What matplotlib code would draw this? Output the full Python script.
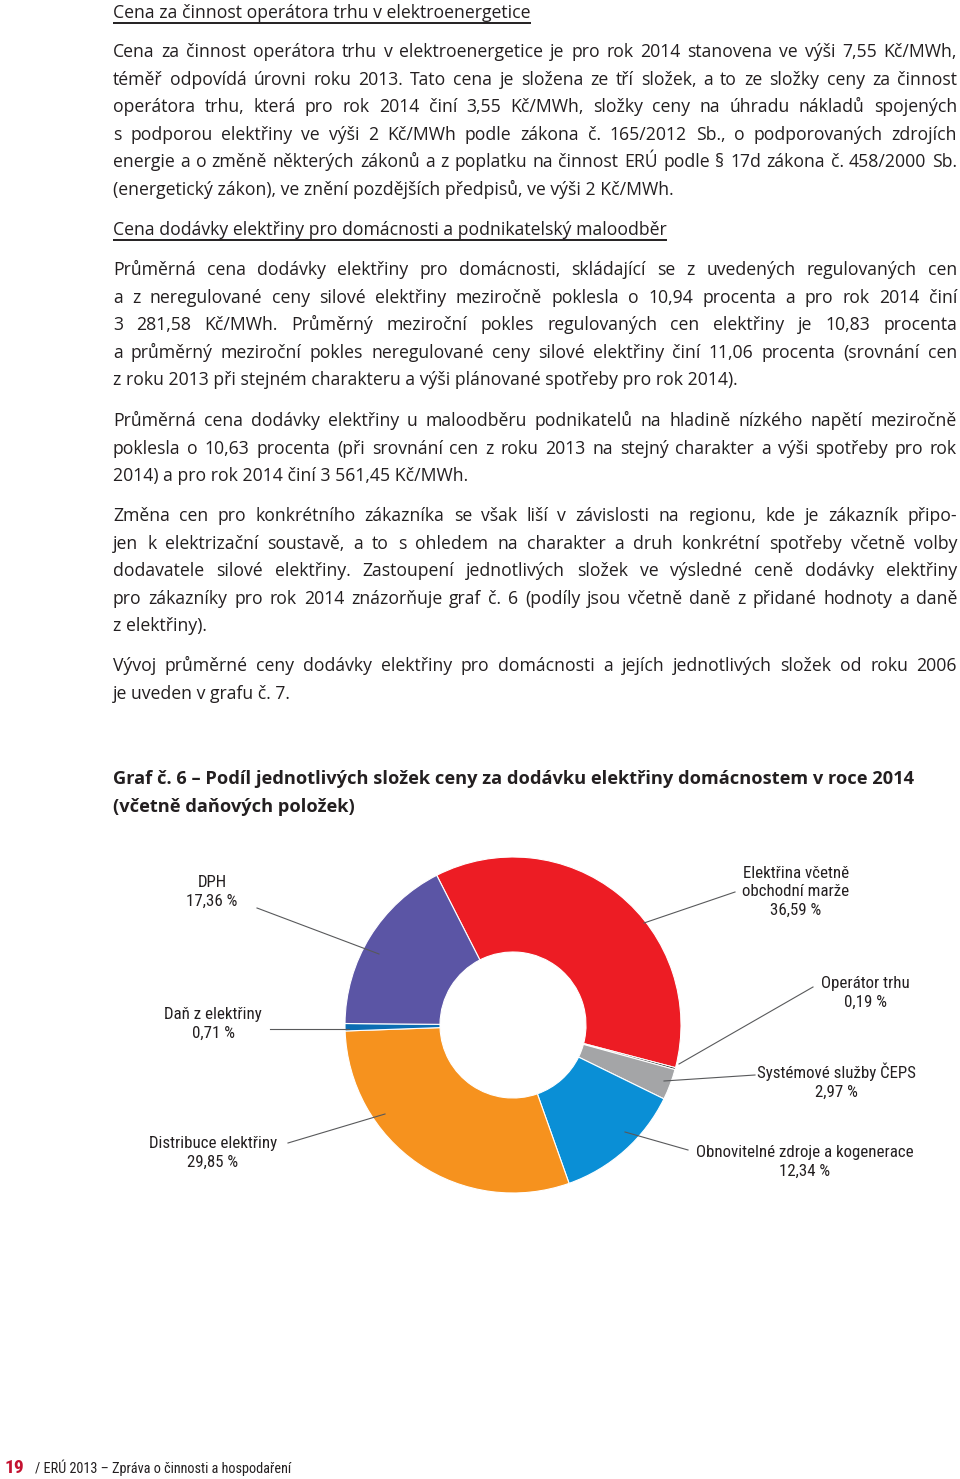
import matplotlib
matplotlib.use("Agg")
import matplotlib.pyplot as plt
from matplotlib import font_manager
from matplotlib.font_manager import FontProperties

W, H, DPI = 960, 1479, 100
INK = "#231f20"

# --- graf č. 6: podíl složek ceny (v %) ---
slice_names = ["Elektřina včetně\nobchodní marže", "Operátor trhu", "Systémové služby ČEPS",
               "Obnovitelné zdroje a kogenerace", "Distribuce elektřiny", "Daň z elektřiny", "DPH"]
slice_shares = [36.59, 0.19, 2.97, 12.34, 29.85, 0.71, 17.36]
slice_colors = ["#ed1c24", "#1a1a1a", "#a4a5a7", "#0a8fd6", "#f6921e", "#0b6db3", "#5b55a5"]

# label centre and leader line (label end -> wedge end), page pixels
label_xy = [(796, 892), (865, 993), (836, 1081), (805, 1162), (213, 1153), (213, 1024), (212, 892)]
leader = [((735, 892), (644, 923)), ((813, 987), (679, 1064)), ((755, 1075), (664, 1081)),
          ((688, 1150), (625, 1132)), ((288, 1143), (385, 1114)), ((270, 1029), (349, 1029)),
          ((257, 908), (379, 954))]

heading1 = "Cena za činnost operátora trhu v elektroenergetice"
heading2 = "Cena dodávky elektřiny pro domácnosti a podnikatelský maloodběr"

para1 = ["Cena za činnost operátora trhu v elektroenergetice je pro rok 2014 stanovena ve výši 7,55 Kč/MWh,",
         "téměř odpovídá úrovni roku 2013. Tato cena je složena ze tří složek, a to ze složky ceny za činnost",
         "operátora trhu, která pro rok 2014 činí 3,55 Kč/MWh, složky ceny na úhradu nákladů spojených",
         "s podporou elektřiny ve výši 2 Kč/MWh podle zákona č. 165/2012 Sb., o podporovaných zdrojích",
         "energie a o změně některých zákonů a z poplatku na činnost ERÚ podle § 17d zákona č. 458/2000 Sb.",
         "(energetický zákon), ve znění pozdějších předpisů, ve výši 2 Kč/MWh."]
para2 = ["Průměrná cena dodávky elektřiny pro domácnosti, skládající se z uvedených regulovaných cen",
         "a z neregulované ceny silové elektřiny meziročně poklesla o 10,94 procenta a pro rok 2014 činí",
         "3 281,58 Kč/MWh. Průměrný meziroční pokles regulovaných cen elektřiny je 10,83 procenta",
         "a průměrný meziroční pokles neregulované ceny silové elektřiny činí 11,06 procenta (srovnání cen",
         "z roku 2013 při stejném charakteru a výši plánované spotřeby pro rok 2014)."]
para3 = ["Průměrná cena dodávky elektřiny u maloodběru podnikatelů na hladině nízkého napětí meziročně",
         "poklesla o 10,63 procenta (při srovnání cen z roku 2013 na stejný charakter a výši spotřeby pro rok",
         "2014) a pro rok 2014 činí 3 561,45 Kč/MWh."]
para4 = ["Změna cen pro konkrétního zákazníka se však liší v závislosti na regionu, kde je zákazník připo-",
         "jen k elektrizační soustavě, a to s ohledem na charakter a druh konkrétní spotřeby včetně volby",
         "dodavatele silové elektřiny. Zastoupení jednotlivých složek ve výsledné ceně dodávky elektřiny",
         "pro zákazníky pro rok 2014 znázorňuje graf č. 6 (podíly jsou včetně daně z přidané hodnoty a daně",
         "z elektřiny)."]
para5 = ["Vývoj průměrné ceny dodávky elektřiny pro domácnosti a jejích jednotlivých složek od roku 2006",
         "je uveden v grafu č. 7."]
title_lines = ["Graf č. 6 – Podíl jednotlivých složek ceny za dodávku elektřiny domácnostem v roce 2014",
               "(včetně daňových položek)"]
footer = "/ ERÚ 2013 – Zpráva o činnosti a hospodaření"

# wide sans for the body, condensed face for the chart labels
names = {f.name for f in font_manager.fontManager.ttflist}
FAM = "Open Sans" if "Open Sans" in names else "Roboto"
FAM_C = "Roboto Condensed" if "Roboto Condensed" in names else "Roboto"


def fp(size, weight="normal", fam=FAM):
    return FontProperties(family=[fam, "DejaVu Sans"], size=size, weight=weight)


fig = plt.figure(figsize=(W / DPI, H / DPI), dpi=DPI)
fig.patch.set_facecolor("white")
renderer = fig.canvas.get_renderer()


def text_w(s, prop):
    return renderer.get_text_width_height_descent(s, prop, ismath=False)[0]


X0, X1 = 113, 957
paras = [(para1, 57), (para2, 275), (para3, 426), (para4, 521), (para5, 671)]
LEAD = 27.6

# body size: the tightest justified line should just fill the column
fs = 14.0
worst = max(text_w(l, fp(fs)) for p, _ in paras for l in p[:-1]) / (X1 - X0)
fs = min(fs * 0.985 / worst, 14.5)
body = fp(fs)

# title size: first line is about 800 px wide in the layout
tfs = min(fs * 800 / text_w(title_lines[0], fp(fs, "bold")), 14.5)
tprop = fp(tfs, "bold")

# pie
R_OUT, R_IN, CX, CY = 168, 73, 513, 1025
axp = fig.add_axes([(CX - R_OUT) / W, 1 - (CY + R_OUT) / H, 2 * R_OUT / W, 2 * R_OUT / H])
axp.pie(slice_shares, colors=slice_colors, startangle=117, counterclock=False, radius=1,
        wedgeprops=dict(width=1 - R_IN / R_OUT, edgecolor="white", linewidth=0.8))
axp.set_xlim(-1, 1)
axp.set_ylim(-1, 1)
axp.axis("off")

# page overlay in pixel coordinates
ax = fig.add_axes([0, 0, 1, 1])
ax.set_xlim(0, W)
ax.set_ylim(H, 0)
ax.axis("off")


def heading(s, y):
    ax.text(X0, y, s, fontproperties=body, color=INK, va="baseline", ha="left")
    w = text_w(s, body)
    ax.plot([X0, X0 + w], [y + 5, y + 5], color=INK, lw=1.4, solid_capstyle="butt")


def justified(line, y):
    words = line.split(" ")
    widths = [text_w(wd, body) for wd in words]
    gap = (X1 - X0 - sum(widths)) / (len(words) - 1)
    x = X0
    for wd, w in zip(words, widths):
        ax.text(x, y, wd, fontproperties=body, color=INK, va="baseline", ha="left")
        x += w + gap


heading(heading1, 18)
heading(heading2, 235)
for lines, y0 in paras:
    for i, line in enumerate(lines):
        y = y0 + i * LEAD
        if i < len(lines) - 1:
            justified(line, y)
        else:
            ax.text(X0, y, line, fontproperties=body, color=INK, va="baseline", ha="left")

for i, line in enumerate(title_lines):
    ax.text(X0, 784 + i * 28, line, fontproperties=tprop, color=INK, va="baseline", ha="left")

# chart labels
lab = fp(12.2, fam=FAM_C)
for name, share, (lx, ly), (p0, p1) in zip(slice_names, slice_shares, label_xy, leader):
    txt = name + "\n" + f"{share:.2f}".replace(".", ",") + " %"
    ax.text(lx, ly, txt, fontproperties=lab, color=INK, ha="center", va="center",
            multialignment="center", linespacing=1.3)
    ax.plot([p0[0], p1[0]], [p0[1], p1[1]], color="#58595b", lw=0.8)

# footer
ax.text(5, 1473, "19", fontproperties=fp(14, "bold", FAM_C), color="#c41230", va="baseline", ha="left")
ax.text(35, 1473, footer, fontproperties=fp(10.3, fam=FAM_C), color=INK, va="baseline", ha="left")

fig.savefig("out.png", dpi=DPI, facecolor="white")
